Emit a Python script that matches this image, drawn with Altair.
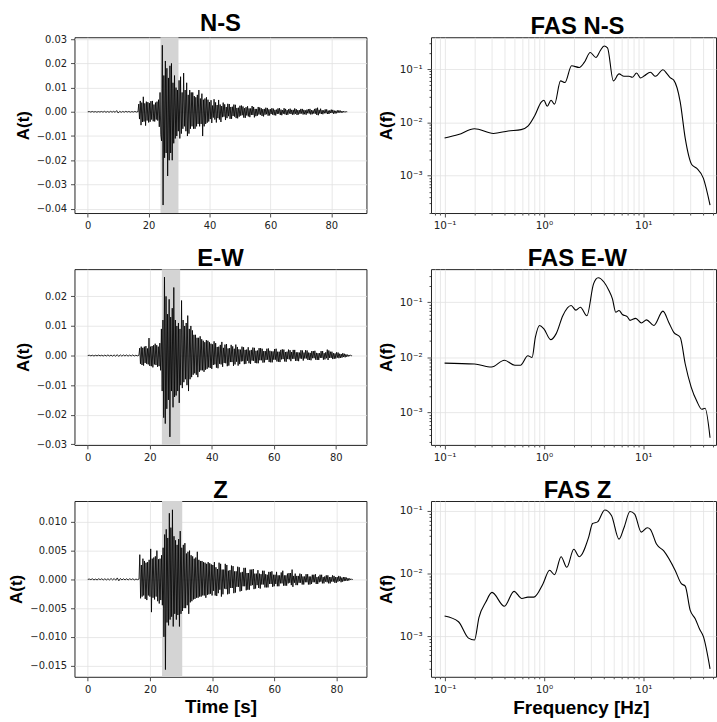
import altair as alt
import pandas as pd

# ------------------------------------------------------------------ data
# Time series: amplitudes, in units of 1e-3
PRE_START, PRE_DT, MAIN_DT = 0.0, 0.5, 0.25
UNIT = 1e-3

ns_pre = [0.0, 0.1, -0.1, 0.15, -0.1, 0.1, -0.15, 0.1, -0.1, 0.15, -0.15, 0.2, -0.2, 0.15, -0.2, 0.2,
          -0.15, 0.2, -0.2, 0.5, -0.5, 0.2, -0.2, 0.15, -0.15, 0.2, -0.1, 0.15, -0.15, 0.1, -0.1, 0.15, -0.1]
ns_main_start = 16.25
ns_main = [
    0.1, -0.1, 3.2, -3.0,   4.5, -5.5, 3.8, -4.2,   6.2, -4.0, 3.5, -5.7,   4.2, -3.6, 4.0, -4.4,
    3.6, -4.1, 4.4, -3.2,   4.5, -3.9, 3.0, -4.0,   3.8, -3.2, 4.2, -3.6,   5.0, -6.2, 8.0, -9.5,
    -12.0, 27.5, -38.5, 15.0,   -19.0, 21.0, -17.0, 18.0,   -26.5, 14.0, -20.0, 19.0,
    -17.0, 20.0, -20.0, 12.0,   -13.0, 15.0, -11.0, 10.0,   -10.0, 9.0, -8.0, 13.0,
    -11.0, 14.5, -9.0, 8.0,   -7.0, 16.0, -6.0, 9.0,   -8.0, 12.0, -10.0, 7.0,   -9.0, 9.0, -7.0, 8.0,
    -6.0, 8.0, -7.0, 6.5,   -7.0, 6.0, -6.0, 7.0,   -5.0, 9.0, -6.0, 5.5,   -5.0, 7.5, -10.0, 5.0,
    -6.0, 5.5, -5.0, 6.0,   -4.5, 5.0, -4.0, 4.0,
    -3.0, 4.8, -4.6, 2.6,   -2.4, 5.2, -3.2, 3.9,   -4.4, 2.8, -2.6, 4.9,   -3.2, 3.0, -4.2, 2.4,
    -2.2, 3.8, -2.0, 3.1,   -3.4, 2.0, -2.6, 3.3,   -1.8, 3.2, -2.9, 2.0,   -2.9, 2.1, -1.7, 3.0,
    -2.0, 2.9, -2.6, 1.6,   -2.7, 1.7, -2.0, 2.5,   -1.6, 2.6, -1.4, 2.2,   -2.4, 1.5, -2.5, 1.9,
    -1.5, 2.3, -1.9, 1.4,   -2.2, 1.4, -1.3, 2.4,   -1.3, 2.0, -2.3, 1.2,   -1.8, 1.2, -1.6, 2.0,
    -1.1, 1.8, -1.2, 1.5,   -1.7, 1.1, -1.9, 1.2,   -1.2, 1.7, -1.0, 1.6,   -1.6, 1.0, -1.5, 1.1,
    -0.9, 1.5, -1.2, 1.3,   -1.4, 0.8, -1.5, 0.9,   -0.9, 1.4, -0.8, 1.5,   -1.3, 0.9, -1.4, 0.7,
    -0.8, 1.5, -1.0, 1.2,   -1.3, 0.7, -1.2, 1.1,   -0.7, 1.3, -0.9, 0.8,   -1.2, 0.8, -1.1, 1.4,
    -0.8, 1.1, -1.3, 0.7,   -1.1, 0.7, -0.8, 1.2,   -0.7, 1.2, -1.1, 0.8,   -1.0, 0.6, -1.2, 0.9,
    -0.6, 1.1, -0.7, 1.2,   -1.1, 0.7, -1.0, 0.6,   -0.7, 1.2, -0.8, 1.4,   -1.3, 1.7, -1.4, 0.8,
    -0.7, 1.3, -0.9, 0.7,   -1.0, 0.6, -0.6, 1.0,   -0.6, 1.0, -0.9, 0.5,   -0.9, 0.6, -0.5, 0.9,
    -0.5, 0.8, -0.8, 0.5,   -0.7, 0.4, -0.6, 0.6,   -0.4, 0.6, -0.3, 0.5,   -0.4, 0.3, -0.3, 0.3,
    -0.2, 0.2, -0.1, 0.05,  0.0,
]

ew_pre = [0.0, 0.1, -0.1, 0.1, -0.15, 0.1, -0.1, 0.15, -0.1, 0.1, -0.15, 0.15, -0.15, 0.2, -0.15, 0.15,
          -0.2, 0.2, -0.25, 0.3, -0.3, 0.25, -0.2, 0.2, -0.15, 0.2, -0.2, 0.15, -0.15, 0.2, -0.15, 0.1, -0.1]
ew_main_start = 16.5
ew_main = [
    0.1, 2.5, -2.8, 3.0,   -3.2, 2.6, -3.4, 3.0,   -2.5, 3.2, -2.8, 2.4,   -3.0, 5.9, -3.5, 3.0,
    -3.6, 3.2, -4.0, 3.5,   -3.0, 4.0, -3.2, 3.5,   -3.8, 3.0, -3.6, 4.2,   -5.0, 9.0, -12.0, 12.0,
    -21.0, 26.5, -23.0, 20.0,   -18.0, 14.0, -15.0, 19.0,   -27.5, 13.0, -12.0, 16.0,
    -17.5, 23.0, -14.0, 12.0,   -13.5, 10.0, -12.0, 11.0,   -16.0, 9.0, -10.0, 18.6,
    -11.0, 12.0, -9.0, 10.0,   -8.0, 11.0, -10.0, 13.5,   -12.0, 9.0, -8.0, 10.0,   -7.3, 8.5, -6.5, 7.0,
    -6.0, 7.0, -6.5, 6.0,   -7.3, 6.0, -5.5, 6.5,   -5.0, 5.5, -5.0, 5.0,   -5.5, 4.5, -4.8, 5.2,
    -4.5, 5.0, -4.0, 4.5,   -4.2, 4.0, -4.5, 3.8,
    -3.2, 4.8, -3.0, 4.2,   -4.1, 2.9, -4.3, 3.0,   -2.8, 3.6, -3.0, 4.6,   -3.8, 2.6, -2.5, 3.7,
    -2.6, 3.9, -3.6, 2.4,   -3.4, 2.5, -2.2, 3.6,   -2.2, 3.1, -3.5, 2.3,   -3.0, 3.7, -2.1, 2.9,
    -3.4, 2.1, -2.9, 2.0,   -2.0, 3.0, -1.9, 2.8,   -2.9, 1.9, -2.8, 2.0,   -1.8, 2.8, -2.6, 1.7,
    -2.8, 1.9, -1.7, 2.7,   -1.8, 2.6, -2.5, 1.6,   -2.6, 1.7, -2.6, 2.5,   -1.6, 2.5, -1.6, 2.3,
    -2.4, 1.5, -2.3, 1.5,   -1.5, 2.3, -1.4, 2.4,   -2.2, 1.6, -2.3, 1.4,   -2.3, 1.4, -1.4, 2.2,
    -1.4, 2.3, -2.0, 1.3,   -2.1, 1.3, -2.2, 1.9,   -1.3, 2.1, -1.2, 2.0,   -2.0, 1.2, -2.1, 1.3,
    -1.2, 2.0, -1.3, 1.8,   -1.9, 1.2, -1.1, 1.9,   -1.1, 1.9, -1.8, 1.1,   -1.8, 1.1, -1.9, 1.0,
    -1.0, 1.8, -1.1, 1.7,   -1.7, 1.0, -1.0, 1.8,   -1.0, 1.7, -1.5, 1.0,   -1.5, 0.9, -1.6, 1.5,
    -0.9, 1.5, -0.9, 1.6,   -1.4, 0.9, -1.5, 0.8,   -1.5, 0.8, -0.8, 1.5,   -0.8, 1.5, -1.4, 0.8,
    -1.3, 1.1, -0.9, 2.0,   -1.5, 1.7, -0.8, 1.3,   -0.8, 1.3, -1.2, 0.8,   -1.1, 0.7, -1.0, 1.1,
    -0.7, 1.0, -0.9, 0.6,   -0.8, 0.5, -0.7, 0.8,   -0.5, 0.6, -0.6, 0.4,   -0.4, 0.3, -0.3, 0.2,
    -0.15, 0.1, -0.05, 0.0,
]

z_pre = [0.0, 0.05, -0.05, 0.1, -0.1, 0.05, -0.1, 0.1, -0.05, 0.1, -0.1, 0.1, -0.1, 0.1, -0.1, 0.15,
         -0.1, 0.15, -0.15, 0.25, -0.25, 0.15, -0.1, 0.1, -0.1, 0.1, -0.1, 0.1, -0.05, 0.1, -0.1, 0.05, -0.05]
z_main_start = 16.5
z_main = [
    0.05, 4.3, -3.3, 2.5,   -3.0, 3.6, -2.8, 3.2,   -3.4, 2.9, -3.6, 3.0,   -2.8, 3.4, -3.0, 5.3,
    -5.7, 3.6, -3.2, 3.8,   -3.5, 4.0, -3.0, 5.0,   -3.8, 3.5, -4.2, 3.6,   -3.6, 4.2, -4.5, 5.5,
    -10.0, 7.8, -15.7, 8.7,   -7.5, 7.2, -8.0, 11.5,   -7.0, 9.0, -6.5, 12.1,   -8.2, 7.5, -6.0, 6.8,
    -7.0, 6.0, -6.2, 7.0,   -8.2, 8.4, -6.0, 5.5,   -5.5, 6.0, -5.0, 6.3,   -5.0, 4.5, -4.5, 4.8,
    -6.0, 5.0, -4.0, 4.2,   -3.8, 4.0, -3.5, 3.6,   -3.4, 3.8, -3.2, 4.8,   -3.2, 3.4, -3.0, 3.2,
    -3.0, 3.2, -2.8, 3.0,   -2.8, 2.9, -3.2, 2.7,   -2.7, 3.0, -2.6, 2.8,   -2.5, 2.6, -2.8, 2.5,
    -2.0, 3.0, -2.8, 2.1,   -2.9, 1.8, -2.4, 2.9,   -1.8, 2.7, -3.0, 1.7,   -2.6, 1.7, -1.6, 2.7,
    -1.7, 2.5, -2.6, 1.5,   -2.5, 1.6, -1.5, 2.4,   -1.5, 2.3, -2.4, 1.4,   -2.3, 1.4, -1.3, 2.2,
    -1.3, 2.1, -2.1, 1.2,   -2.0, 1.3, -1.2, 2.0,   -1.2, 2.0, -1.9, 1.1,   -1.8, 1.1, -1.8, 1.7,
    -1.1, 1.7, -1.0, 1.8,   -1.7, 1.0, -1.6, 1.0,   -1.0, 1.6, -1.5, 1.0,   -1.6, 0.9, -0.9, 1.5,
    -0.9, 1.5, -1.4, 0.9,   -1.4, 0.8, -1.4, 1.3,   -0.8, 1.3, -0.8, 1.4,   -1.3, 0.8, -1.2, 0.8,
    -0.8, 1.3, -1.2, 0.7,   -1.2, 0.7, -0.7, 1.2,   -0.7, 1.5, -1.1, 0.7,   -1.1, 0.7, -1.1, 1.0,
    -0.7, 1.1, -0.6, 1.1,   -1.0, 1.7, -1.3, 0.6,   -0.6, 1.0, -1.0, 0.6,   -1.0, 0.6, -0.6, 1.0,
    -0.6, 0.9, -0.9, 0.5,   -0.9, 0.5, -0.5, 0.9,   -0.5, 0.9, -0.9, 0.5,   -0.9, 0.5, -0.8, 0.8,
    -0.5, 0.8, -0.5, 0.9,   -0.8, 0.4, -0.8, 0.5,   -0.5, 0.8, -0.4, 0.8,   -0.7, 0.4, -0.7, 0.5,
    -0.4, 0.7, -0.5, 0.7,   -0.7, 0.4, -0.7, 0.4,   -0.4, 0.7, -0.4, 0.6,   -0.6, 0.4, -0.6, 0.4,
    -0.4, 0.6, -0.3, 0.5,   -0.5, 0.3, -0.4, 0.4,   -0.3, 0.4, -0.25, 0.3,   -0.25, 0.2, -0.2, 0.15,
    -0.1, 0.1, -0.05, 0.0,
]

# shaded window [s]
band_start = [23.9, 23.9, 23.9]
band_end = [29.8, 29.8, 30.4]

# Fourier amplitude spectra
ns_f = [0.1, 0.138, 0.2, 0.31, 0.437, 0.59, 0.69, 0.81, 0.94, 1.0, 1.08, 1.18, 1.28, 1.47, 1.63, 1.9,
        2.27, 2.55, 2.93, 3.34, 3.69, 4.04, 4.37, 5.0, 5.71, 6.4, 7.2, 7.76, 8.58, 9.4, 10.3, 11.8,
        13.3, 15.8, 17.4, 18.8, 20.3, 23.6, 26.5, 30.9, 34.7, 40.4, 47.1]
ns_a = [0.0051, 0.0059, 0.0076, 0.0062, 0.0069, 0.0073, 0.0085, 0.0135, 0.024, 0.026, 0.020, 0.026,
        0.022, 0.060, 0.056, 0.115, 0.107, 0.133, 0.204, 0.165, 0.22, 0.27, 0.25, 0.060, 0.081, 0.073,
        0.073, 0.070, 0.084, 0.068, 0.075, 0.087, 0.073, 0.097, 0.081, 0.068, 0.062, 0.024, 0.005,
        0.0016, 0.00137, 0.00089, 0.00028]

ew_f = [0.1, 0.2, 0.297, 0.40, 0.51, 0.58, 0.69, 0.76, 0.82, 0.905, 1.0, 1.17, 1.33, 1.55, 1.88, 2.1,
        2.33, 2.71, 3.16, 3.52, 4.04, 4.5, 4.9, 5.29, 5.7, 6.17, 6.9, 7.36, 8.4, 9.6, 10.8, 12.8, 15.8,
        18.1, 20.3, 23.6, 26.5, 30.4, 34.7, 38.9, 42.0, 47.1]
ew_a = [0.0079, 0.0076, 0.0067, 0.0089, 0.0072, 0.0072, 0.0107, 0.010, 0.023, 0.038, 0.033, 0.021,
        0.027, 0.057, 0.087, 0.072, 0.081, 0.057, 0.215, 0.277, 0.23, 0.165, 0.115, 0.066, 0.071, 0.060,
        0.055, 0.047, 0.051, 0.042, 0.048, 0.038, 0.069, 0.043, 0.0285, 0.023, 0.0076, 0.0029, 0.0016,
        0.00115, 0.0012, 0.00035]

z_f = [0.1, 0.138, 0.174, 0.2, 0.222, 0.26, 0.30, 0.40, 0.50, 0.60, 0.69, 0.79, 0.98, 1.14, 1.28, 1.49,
       1.70, 2.0, 2.27, 2.82, 3.09, 3.47, 4.1, 4.79, 5.7, 6.4, 7.36, 8.2, 9.55, 11.0, 11.8, 13.6, 16.1,
       21.0, 24.2, 26.5, 29.7, 33.4, 36.9, 40.4, 47.1]
z_a = [0.0021, 0.0017, 0.00093, 0.00087, 0.0020, 0.0035, 0.0050, 0.0030, 0.0052, 0.0040, 0.0042,
       0.0042, 0.0069, 0.0113, 0.0096, 0.0186, 0.0126, 0.0245, 0.0186, 0.038, 0.063, 0.067, 0.104,
       0.085, 0.0355, 0.054, 0.098, 0.089, 0.046, 0.054, 0.051, 0.0296, 0.023, 0.0112, 0.0069, 0.0063,
       0.0026, 0.0019, 0.0013, 0.00098, 0.0003]

ts_titles = ["N-S", "E-W", "Z"]
fas_titles = ["FAS N-S", "FAS E-W", "FAS Z"]
time_ticks = [0, 20, 40, 60, 80]
ns_yticks = [-0.04, -0.03, -0.02, -0.01, 0.0, 0.01, 0.02, 0.03]
ew_yticks = [-0.03, -0.02, -0.01, 0.0, 0.01, 0.02]
z_yticks = [-0.015, -0.010, -0.005, 0.0, 0.005, 0.010]

# ------------------------------------------------------------------ layout constants
W_TS, W_FAS, H = 294, 287, 177
TS_XDOM = [[-4.36, 91.56], [-4.28, 89.88], [-4.27, 89.67]]
TS_YDOM = [[-0.0418, 0.0308], [-0.0302, 0.0292], [-0.01695, 0.01363]]
FAS_XDOM = [0.07295, 54.08]
FAS_YDOM = [[1.995e-4, 0.3945], [2.6e-4, 0.398], [2.24e-4, 0.1445]]

TITLE_FONT = "Liberation Sans"
TICK_FONT = "DejaVu Sans"


def trace_df(pre, main, main_start):
    t = [PRE_START + i * PRE_DT for i in range(len(pre))]
    t += [main_start + i * MAIN_DT for i in range(len(main))]
    a = [v * UNIT for v in pre + main]
    return pd.DataFrame({"t": t, "a": a})


def log_ticks(lo, hi):
    vals = []
    for k in range(-5, 3):
        for m in range(1, 10):
            v = round(m * 10.0 ** k, 8)
            if lo <= v <= hi:
                vals.append(v)
    return vals


MAJOR_TEST = "indexof([0.0001, 0.001, 0.01, 0.1, 1, 10], datum.value) >= 0"
SUP_X = ("datum.value === 0.1 ? '10\u207b\u00b9' : datum.value === 1 ? '10\u2070' : "
         "datum.value === 10 ? '10\u00b9' : ''")
SUP_Y = ("datum.value === 0.1 ? '10\u207b\u00b9' : datum.value === 0.01 ? '10\u207b\u00b2' : "
         "datum.value === 0.001 ? '10\u207b\u00b3' : ''")


def minus_expr(fmt):
    return "replace(format(datum.value, '%s'), '-', '\u2212')" % fmt


def ts_chart(i, df, yticks, yfmt, bottom):
    xscale = alt.Scale(domain=TS_XDOM[i], nice=False, zero=False)
    if bottom:
        xaxis = alt.Axis(values=time_ticks, format="d", title="Time [s]", titleFontSize=19,
                         titlePadding=3)
    else:
        xaxis = alt.Axis(values=time_ticks, format="d", title=None)
    yaxis = alt.Axis(values=yticks, labelExpr=minus_expr(yfmt), title="A(t)")
    yscale = alt.Scale(domain=TS_YDOM[i], nice=False, zero=False)
    band_df = pd.DataFrame({"s": [band_start[i]], "e": [band_end[i]]})
    band = alt.Chart(band_df).mark_rect(color="#d4d4d4").encode(
        x=alt.X("s:Q", scale=xscale, axis=xaxis), x2="e:Q")
    line = alt.Chart(df).mark_line(color="black", strokeWidth=0.85).encode(
        x=alt.X("t:Q", scale=xscale, axis=xaxis),
        y=alt.Y("a:Q", scale=yscale, axis=yaxis),
    )
    return alt.layer(band, line).properties(
        width=W_TS, height=H, title=alt.TitleParams(ts_titles[i]))


def fas_chart(i, f, a, bottom):
    df = pd.DataFrame({"f": f, "a": a})
    xvals = log_ticks(FAS_XDOM[0], FAS_XDOM[1])
    yvals = log_ticks(FAS_YDOM[i][0], FAS_YDOM[i][1])
    tick_cond = {"condition": {"test": MAJOR_TEST, "value": 4}, "value": 2}
    xkw = dict(values=xvals, labelExpr=SUP_X, tickSize=tick_cond, labelOverlap=False,
               labelBound=False, labelFontSize=10.5)
    if bottom:
        xaxis = alt.Axis(title="Frequency [Hz]", titleFontSize=19, titlePadding=3, titleX=151, **xkw)
    else:
        xaxis = alt.Axis(title=None, **xkw)
    yaxis = alt.Axis(values=yvals, labelExpr=SUP_Y, tickSize=tick_cond, labelOverlap=False,
                     gridOpacity={"condition": {"test": MAJOR_TEST, "value": 1}, "value": 0},
                     title="A(f)", labelPadding=5, labelFontSize=10.5)
    return alt.Chart(df).mark_line(color="black", strokeWidth=1.1, interpolate="monotone").encode(
        x=alt.X("f:Q", scale=alt.Scale(type="log", domain=FAS_XDOM, nice=False), axis=xaxis),
        y=alt.Y("a:Q", scale=alt.Scale(type="log", domain=FAS_YDOM[i], nice=False), axis=yaxis),
    ).properties(width=W_FAS, height=H, title=alt.TitleParams(fas_titles[i], dx=4))


ns_df = trace_df(ns_pre, ns_main, ns_main_start)
ew_df = trace_df(ew_pre, ew_main, ew_main_start)
z_df = trace_df(z_pre, z_main, z_main_start)

panels = [
    ts_chart(0, ns_df, ns_yticks, ".2f", False), fas_chart(0, ns_f, ns_a, False),
    ts_chart(1, ew_df, ew_yticks, ".2f", False), fas_chart(1, ew_f, ew_a, False),
    ts_chart(2, z_df, z_yticks, ".3f", True), fas_chart(2, z_f, z_a, True),
]

chart = alt.concat(
    *panels, columns=2,
    spacing={"row": 14.5, "column": 9},
    align={"row": "each", "column": "all"},
).properties(
    padding={"left": 7, "top": 9, "right": 0, "bottom": 0},
    background="white",
).configure_view(
    stroke="#222", strokeWidth=1,
).configure_axis(
    labelFont=TICK_FONT, labelFontSize=10, labelColor="#222",
    tickColor="#222", tickSize=4, tickWidth=0.8, labelPadding=4,
    domain=False, gridColor="#e2e2e2", gridWidth=0.8,
    titleFont=TITLE_FONT, titleFontWeight="bold", titleFontSize=17, titleColor="black",
    titlePadding=4,
).configure_title(
    font=TITLE_FONT, fontSize=24, fontWeight="bold", color="black", offset=-2, anchor="middle",
)

chart.save("out.html", embed_options={"renderer": "svg", "actions": False})
